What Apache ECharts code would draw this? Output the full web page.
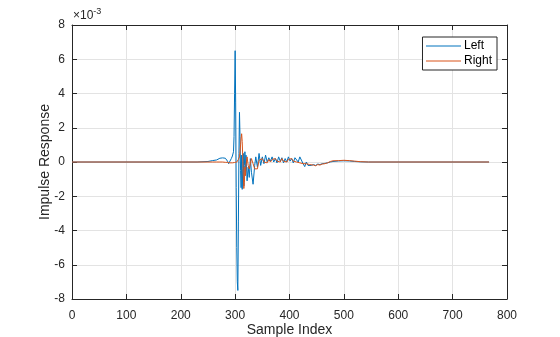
<!DOCTYPE html>
<html>
<head>
<meta charset="utf-8">
<title>Impulse Response</title>
<script src="https://cdn.jsdelivr.net/npm/echarts@6/dist/echarts.min.js"></script>
<style>
  html, body { margin: 0; padding: 0; background: #fff; }
  #chart { width: 560px; height: 337px; }
</style>
</head>
<body>
<div id="chart"></div>
<script>
// sample positions (x axis)
const sampleIndex = [
  0, 230, 250, 258, 266, 272, 277, 282, 286, 288, 290, 293, 295, 297, 298, 299,
  300, 301, 302, 303, 304, 305, 306, 307, 308, 309, 310, 311, 312, 313, 314, 315,
  316, 317, 318, 319, 320, 322, 324, 326, 328, 330, 333, 336, 338, 341, 344, 347,
  350, 353, 356, 359, 362, 365, 368, 371, 374, 377, 380, 383, 386, 389, 392, 395,
  398, 401, 404, 407, 410, 413, 416, 419, 422, 425, 428, 431, 434, 437, 440, 444,
  448, 452, 456, 460, 465, 470, 475, 480, 490, 500, 510, 520, 530, 545, 767
];

// values in units of 1e-3
const leftValues = [
  0, 0, 0.03, 0.08, 0.12, 0.22, 0.24, 0.22, 0.05, -0.1, -0.18, 0.2, 0.35, 0.6, 1.5, 4.0,
  6.5, 3.5, -1.5, -5.0, -7.0, -7.5, -3.5, 0.5, 2.9, 1.5, -0.5, -1.5, 0.4, -1.6, -0.4, 0.5,
  -1.4, -0.2, 0.6, -0.6, 0.4, -1.1, -0.3, -0.9, 0.2, -0.6, -1.3, -0.2, 0.3, -0.3, 0.5, -0.2,
  0.3, -0.1, 0.4, 0.0, 0.25, 0.05, 0.3, 0.0, 0.2, -0.05, 0.3, 0.05, 0.25, -0.05, 0.2, 0.0,
  0.3, 0.05, 0.2, -0.05, 0.25, 0.35, 0.0, 0.3, 0.35, -0.1, -0.27, 0.0, -0.2, -0.1, -0.2, -0.15,
  -0.2, -0.12, -0.15, -0.1, -0.08, -0.05, 0.0, 0.03, 0.06, 0.07, 0.06, 0.03, 0.01, 0, 0
];

const rightValues = [
  0, 0, 0, 0, 0, 0, 0, -0.02, -0.02, -0.03, -0.05, -0.05, -0.05, -0.03, -0.02, -0.03,
  -0.05, -0.05, -0.03, 0.0, 0.05, 0.1, 0.15, 0.2, 0.3, 0.6, 1.0, 1.4, 1.65, 1.2, 0.3, -0.8,
  -1.55, -1.2, -0.3, -0.8, -0.2, 0.3, -0.2, -0.4, -0.1, 0.2, -0.1, -0.4, -0.3, -0.4, 0.1, 0.0,
  0.2, 0.0, 0.1, -0.05, 0.15, 0.0, 0.15, 0.05, 0.2, 0.05, 0.15, 0.0, 0.2, 0.05, 0.15, 0.0,
  0.15, 0.05, 0.2, 0.05, 0.1, 0.0, 0.1, -0.05, 0.0, -0.1, -0.15, -0.1, -0.2, -0.15, -0.2, -0.18,
  -0.22, -0.15, -0.18, -0.12, -0.1, -0.05, 0.03, 0.07, 0.08, 0.1, 0.08, 0.05, 0.02, 0, 0
];

const seriesNames = ["Left", "Right"];
const seriesColors = ["#0072BD", "#D95319"];

const axisColor = "#262626";
const gridColor = "#e3e3e3";
const font = "Liberation Sans, Arial, Helvetica, sans-serif";

const toPairs = (vals) => sampleIndex.map((x, i) => [x, vals[i]]);

const chart = echarts.init(document.getElementById("chart"), null, { renderer: "canvas" });

// box axes: bottom/left carry labels, top/right only ticks
const xBase = {
  type: "value",
  min: 0,
  max: 800,
  interval: 100,
  axisLine: { onZero: false, lineStyle: { color: axisColor, width: 1 } },
  axisTick: { inside: true, length: 5, lineStyle: { color: axisColor } },
};
const yBase = {
  type: "value",
  min: -8,
  max: 8,
  interval: 2,
  axisLine: { onZero: false, lineStyle: { color: axisColor, width: 1 } },
  axisTick: { inside: true, length: 5, lineStyle: { color: axisColor } },
};

chart.setOption({
  animation: false,
  grid: { left: 72, right: 53, top: 25, bottom: 38, outerBoundsMode: "none" },
  legend: {
    data: seriesNames,
    orient: "vertical",
    right: 63,
    top: 37,
    itemWidth: 35,
    itemHeight: 11,
    itemGap: 3,
    padding: [3, 5, 3, 3],
    backgroundColor: "#fff",
    borderColor: axisColor,
    borderWidth: 1,
    itemStyle: { opacity: 0 },
    lineStyle: { width: 1 },
    textStyle: { color: "#000", fontSize: 12, fontFamily: font, padding: [0, 0, 0, -2] },
  },
  xAxis: [
    Object.assign({}, xBase, {
      position: "bottom",
      name: "Sample Index",
      nameLocation: "middle",
      nameGap: 24,
      nameMoveOverlap: false,
      nameTextStyle: { color: axisColor, fontSize: 14, fontFamily: font },
      axisLabel: { color: axisColor, fontSize: 12, fontFamily: font, margin: 11 },
      splitLine: { show: true, lineStyle: { color: gridColor, width: 1 } },
    }),
    Object.assign({}, xBase, {
      position: "top",
      axisLabel: { show: false },
      splitLine: { show: false },
    }),
  ],
  yAxis: [
    Object.assign({}, yBase, {
      position: "left",
      name: "Impulse Response",
      nameLocation: "middle",
      nameGap: 20,
      nameMoveOverlap: false,
      nameTextStyle: { color: axisColor, fontSize: 14, fontFamily: font },
      axisLabel: { color: axisColor, fontSize: 12, fontFamily: font, margin: 7 },
      splitLine: { show: true, lineStyle: { color: gridColor, width: 1 } },
    }),
    Object.assign({}, yBase, {
      position: "right",
      axisLabel: { show: false },
      splitLine: { show: false },
    }),
  ],
  graphic: [
    {
      type: "text",
      left: 73,
      top: 7,
      style: {
        text: "{a|×10}{b|-3}",
        rich: {
          a: { fontSize: 12, fontFamily: font, fill: axisColor, verticalAlign: "bottom" },
          b: { fontSize: 9, fontFamily: font, fill: axisColor, verticalAlign: "top", padding: [0, 0, 6, 0] },
        },
      },
    },
  ],
  series: [
    {
      name: seriesNames[0],
      type: "line",
      data: toPairs(leftValues),
      symbol: "none",
      lineStyle: { color: seriesColors[0], width: 1 },
      itemStyle: { color: seriesColors[0] },
    },
    {
      name: seriesNames[1],
      type: "line",
      data: toPairs(rightValues),
      symbol: "none",
      lineStyle: { color: seriesColors[1], width: 1 },
      itemStyle: { color: seriesColors[1] },
    },
  ],
});
</script>
</body>
</html>
